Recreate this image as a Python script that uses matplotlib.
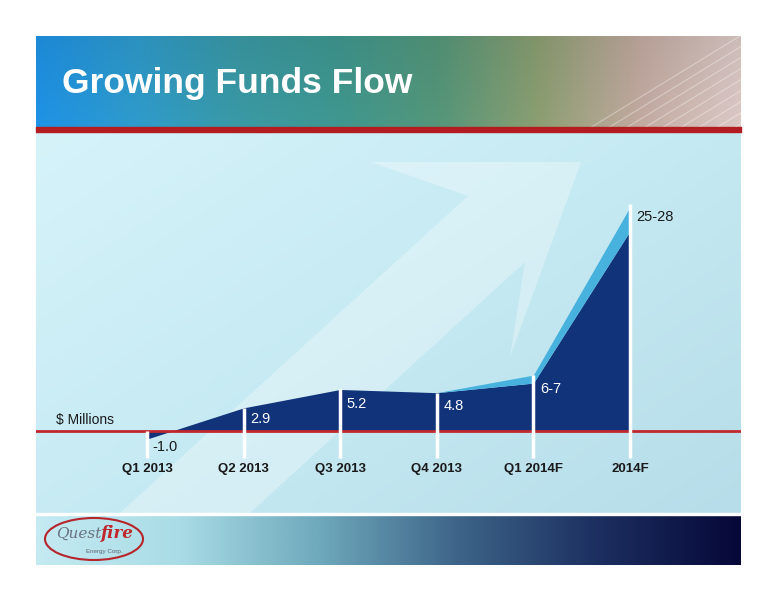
import numpy as np
import matplotlib.pyplot as plt
from matplotlib.colors import LinearSegmentedColormap
from matplotlib.patches import Polygon, Ellipse

plt.rcParams['font.family'] = ['Liberation Sans', 'DejaVu Sans']

# chart data
categories = ['Q1 2013', 'Q2 2013', 'Q3 2013', 'Q4 2013', 'Q1 2014F', '2014F']
low = [-1.0, 2.9, 5.2, 4.8, 6.0, 25.0]
high = [-1.0, 2.9, 5.2, 4.8, 7.0, 28.0]
value_labels = ['-1.0', '2.9', '5.2', '4.8', '6-7', '25-28']

W, H = 776, 600
fig = plt.figure(figsize=(W / 100, H / 100), dpi=100)
fig.patch.set_facecolor('white')

# background slide, pixel coordinates
bg = fig.add_axes([0, 0, 1, 1])
bg.set_xlim(0, W)
bg.set_ylim(H, 0)
bg.axis('off')

# header gradient
hdr = LinearSegmentedColormap.from_list('hdr', ['#1f93e6', '#2f9ccc', '#3a9aa6', '#3f9890',
                                              '#55977a', '#8c9f72', '#c2aaa0', '#dcc9c6'])
gx = np.linspace(0, 1, 300)[None, :]
gy = np.linspace(0, 1, 40)[:, None]
img = hdr(np.repeat(gx, 40, axis=0))
img[..., :3] *= (0.93 + 0.07 * gy)[..., None]
bg.imshow(img, extent=[36, 741, 128, 36], aspect='auto', zorder=1)
for k in range(9):
    x0 = 590 + k * 18
    bg.plot([x0, x0 + 150], [128, 36], color='white', lw=0.8, alpha=0.35, zorder=2)
bg.fill_between([36, 741], 127, 132, color='#b31d22', zorder=3)
bg.text(62, 84, 'Growing Funds Flow', color='white', fontsize=25.5, fontweight='bold',
        va='center', ha='left', zorder=4)

# light panel
pnl = LinearSegmentedColormap.from_list('pnl', ['#d6f3fa', '#c6eaf3', '#b6dde9'])
px = np.linspace(0, 1, 200)[None, :]
py = np.linspace(0, 1, 200)[:, None]
pimg = pnl(np.clip(0.55 * px + 0.45 * py, 0, 1))
bg.imshow(pimg, extent=[36, 741, 513, 132], aspect='auto', zorder=1)
arrow = Polygon([(581, 162), (371, 162), (468, 196), (120, 513), (250, 513),
                 (525, 262), (510, 357)], closed=True, color='white', alpha=0.3,
                lw=0, zorder=2)
bg.add_patch(arrow)

# footer
ftr = LinearSegmentedColormap.from_list('ftr', ['#c4eaf2', '#a9dce6', '#6fa9bc', '#3d6488',
                                              '#1c2f60', '#060838'])
fx = np.linspace(0, 1, 300)[None, :]
bg.imshow(ftr(np.repeat(fx, 10, axis=0)), extent=[36, 741, 565, 515], aspect='auto', zorder=1)
bg.fill_between([36, 741], 513, 515, color='white', zorder=2)
bg.add_patch(Ellipse((94, 539), 98, 42, fill=False, ec='#b5252b', lw=1.5, zorder=3))
bg.text(101, 534, 'Quest', color='#6a7380', fontsize=11, style='italic', ha='right',
        va='center', family='DejaVu Serif', zorder=4)
bg.text(101, 533, 'fire', color='#c0262c', fontsize=12, style='italic', fontweight='bold',
        ha='left', va='center', family='DejaVu Serif', zorder=4)
bg.text(104, 552, 'Energy Corp.', color='#5a6470', fontsize=4.5, ha='center', va='center',
        zorder=4)

# chart axes
ax = fig.add_axes([36 / W, (H - 513) / H, (741 - 36) / W, (513 - 132) / H])
ax.patch.set_alpha(0)
x = np.arange(len(categories))
ax.set_xlim(-1.149, 6.15)
ax.set_ylim(-10.25, 37.4)
ax.axis('off')

ax.fill_between(x, 0, low, color='#11337a', interpolate=True, lw=0, zorder=2)
ax.fill_between(x, low, high, color='#48b2de', lw=0, zorder=2)
ax.axhline(0, color='#c1272d', lw=2, zorder=3)
tops = [max(h, 0) + (0.4 if i == len(x) - 1 else 0) for i, h in enumerate(high)]
ax.vlines(x, -3.4, tops, color='white', lw=2.5, zorder=4)

drops = [0, 1.4, 1.8, 1.7, 0.8, 0]
for i, lab in enumerate(value_labels):
    if i == 0:
        ax.text(x[i] + 0.06, -2.0, lab, color='#1a1a1a', fontsize=10.5, va='center', ha='left', zorder=5)
    elif i == len(x) - 1:
        ax.text(x[i] + 0.07, 26.8, lab, color='#1a1a1a', fontsize=10.5, va='center', ha='left', zorder=5)
    else:
        ax.text(x[i] + 0.07, low[i] - drops[i], lab, color='white', fontsize=10.5,
                va='center', ha='left', zorder=5)
    ax.text(x[i], -4.75, categories[i], color='#1a1a1a', fontsize=9.5, fontweight='bold',
            ha='center', va='center', zorder=5)

ax.text(-0.94, 1.4, '$ Millions', color='#1a1a1a', fontsize=10, ha='left', va='center', zorder=5)

fig.savefig('out.png', dpi=100)
